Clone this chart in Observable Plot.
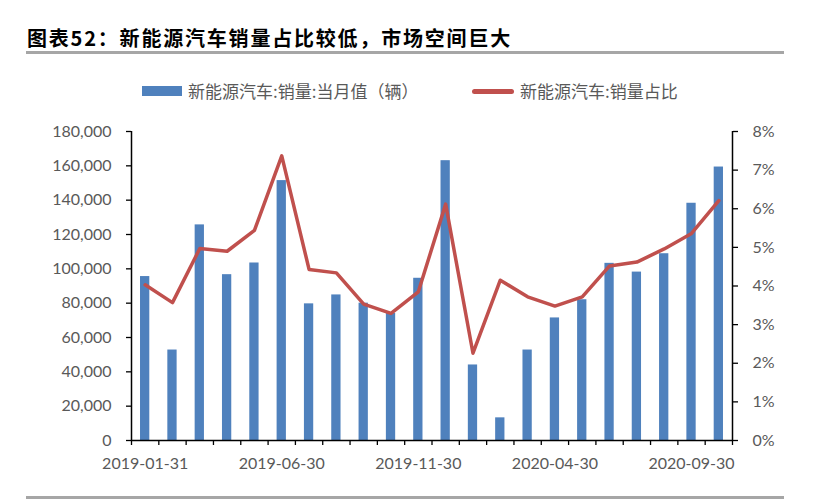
<!DOCTYPE html>
<html><head><meta charset="utf-8">
<script src="https://cdn.jsdelivr.net/npm/d3@7"></script>
<script src="https://cdn.jsdelivr.net/npm/@observablehq/plot@0.6"></script>
<style>
body{margin:0;background:#fff;width:818px;height:500px;position:relative;overflow:hidden;font-family:"Noto Sans CJK SC",sans-serif;}
#title{position:absolute;left:27px;top:25px;font-size:20px;font-weight:bold;color:#000;letter-spacing:1.8px;line-height:26px;white-space:nowrap;}
#rule1{position:absolute;left:26px;width:758px;top:51px;height:3px;background:#a6a6a6;}
#legend{position:absolute;top:79px;left:0;width:818px;height:24px;font-size:17px;color:#595959;line-height:24px;}
#legend .sw1{position:absolute;left:142px;top:7px;width:40px;height:10px;background:#4F81BD;}
#legend .t1{position:absolute;left:188px;top:0;white-space:nowrap;}
#legend .sw2{position:absolute;left:472px;top:10px;width:42px;height:5px;border-radius:3px;background:#C0504D;}
#legend .t2{position:absolute;left:520px;top:0;white-space:nowrap;}
#chart{position:absolute;left:0;top:110px;}
#rule2{position:absolute;left:26px;width:758px;top:496px;height:3px;background:#a6a6a6;}
</style>
</head><body>
<div id="title">图表52：新能源汽车销量占比较低，市场空间巨大</div>
<div id="rule1"></div>
<div id="legend"><div class="sw1"></div><div class="t1">新能源汽车:销量:当月值（辆）</div><div class="sw2"></div><div class="t2">新能源汽车:销量占比</div></div>
<div id="chart"></div>
<div id="rule2"></div>
<script>
const months = ["2019-01-31","2019-02-28","2019-03-31","2019-04-30","2019-05-31","2019-06-30","2019-07-31","2019-08-31","2019-09-30","2019-10-31","2019-11-30","2019-12-31","2020-01-31","2020-02-29","2020-03-31","2020-04-30","2020-05-31","2020-06-30","2020-07-31","2020-08-31","2020-09-30","2020-10-31"];
const sales = [95500,52700,125600,96600,103400,151400,79600,84800,80000,74000,94500,163000,44000,13200,52700,71400,82000,103200,98100,108800,138200,159300];
const share = [4.03,3.57,4.97,4.90,5.44,7.37,4.43,4.34,3.53,3.29,3.85,6.12,2.26,4.15,3.72,3.48,3.72,4.52,4.62,4.96,5.36,6.21];
const leftTicks = [0,20000,40000,60000,80000,100000,120000,140000,160000,180000];
const rightTicks = [0,1,2,3,4,5,6,7,8];
const xLabels = ["2019-01-31","2019-06-30","2019-11-30","2020-04-30","2020-09-30"];
const yMax = 180000, pctMax = 8;
const toY = p => p / pctMax * yMax;
const data = months.map((m, i) => ({month: m, sales: sales[i], share: share[i]}));
const W = 818, H = 370, ML = 131, MR = 86, MT = 21, MB = 40;
const step = (W - ML - MR) / months.length;
const txt = "#595959";
const first = months[0], last = months[months.length - 1];
const chart = Plot.plot({
  width: W, height: H, marginLeft: ML, marginRight: MR, marginTop: MT, marginBottom: MB,
  style: {fontFamily: "Lato, 'Liberation Sans', sans-serif", fontSize: "16px", background: "#fff", overflow: "visible"},
  x: {type: "band", domain: months, paddingInner: 0.66, paddingOuter: 0.33, round: false, axis: null, label: null},
  y: {domain: [0, yMax], axis: null, label: null},
  marks: [
    Plot.barY(data, {x: "month", y: "sales", fill: "#4F81BD"}),
    Plot.line(data, {x: "month", y: d => toY(d.share), stroke: "#C0504D", strokeWidth: 3.5, strokeLinejoin: "round", strokeLinecap: "round"}),
    Plot.ruleY([0], {stroke: "#000", strokeWidth: 1.4}),
    Plot.ruleX([first], {x: d => d, dx: -step / 2, y1: 0, y2: yMax, stroke: "#000", strokeWidth: 1.5}),
    Plot.ruleX([last], {x: d => d, dx: step / 2, y1: 0, y2: yMax, stroke: "#000", strokeWidth: 1.5}),
    Plot.axisY({anchor: "left", label: null, ticks: leftTicks, tickFormat: d3.format(","), tickSize: 5, tickPadding: 15, stroke: "#000", strokeWidth: 1.3, fill: txt}),
    Plot.axisY({anchor: "right", label: null, ticks: rightTicks.map(toY), tickFormat: v => Math.round(v / yMax * pctMax) + "%", tickSize: 5, tickPadding: 15, stroke: "#000", strokeWidth: 1.3, fill: txt}),
    Plot.axisX({label: null, ticks: months, tickFormat: () => "", tickSize: 5, dx: -step / 2, stroke: "#000", strokeWidth: 1.3}),
    Plot.axisX({label: null, ticks: [last], tickFormat: () => "", tickSize: 5, dx: step / 2, stroke: "#000", strokeWidth: 1.3}),
    Plot.axisX({label: null, ticks: xLabels, tickSize: 0, tickPadding: 17, fill: txt})
  ]
});
document.getElementById("chart").appendChild(chart);
</script>
</body></html>
